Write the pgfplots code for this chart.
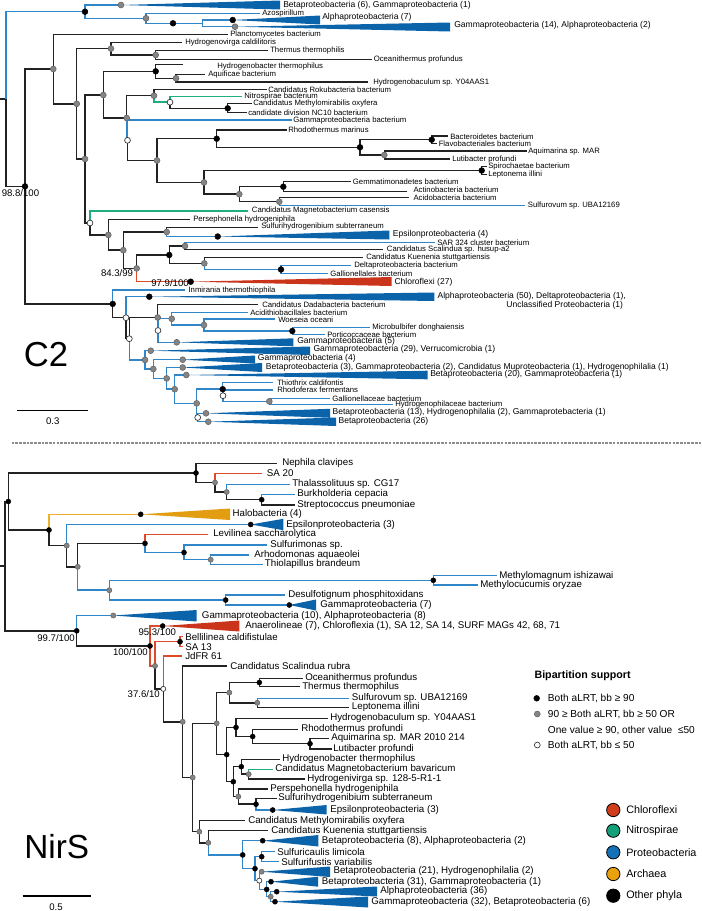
\documentclass[border=0pt]{standalone}
\usepackage{pgfplots}
\pgfplotsset{compat=1.18}
\usepackage{fontspec}
\setmainfont{Liberation Sans}
\definecolor{tblack}{HTML}{222222}
\definecolor{lblue}{HTML}{2F86C8}
\definecolor{tblue}{HTML}{0B63AA}
\definecolor{lred}{HTML}{DD4A2A}
\definecolor{tred}{HTML}{C9341A}
\definecolor{lgreen}{HTML}{1FAE80}
\definecolor{lorange}{HTML}{EDB02E}
\definecolor{torange}{HTML}{E39D12}
\definecolor{dgray}{HTML}{858585}
\definecolor{cchl}{HTML}{D13D1A}
\definecolor{cnit}{HTML}{139F77}
\definecolor{cpro}{HTML}{1470B7}
\definecolor{carc}{HTML}{E9A20E}
\newcommand{\fc}{\fontsize{5.8}{6.5}\selectfont}
\newcommand{\fC}{\fontsize{6.4}{7}\selectfont}
\newcommand{\fn}{\fontsize{7.3}{8}\selectfont}
\newcommand{\fs}{\fontsize{7.2}{8}\selectfont}
\newcommand{\fl}{\fontsize{7.6}{9}\selectfont}
\newcommand{\lab}[4][\fc]{\node[anchor=west,inner sep=0pt,font=#1] at (axis cs:#2,#3) {#4};}
\newcommand{\labr}[4][\fs]{\node[anchor=east,inner sep=0pt,font=#1] at (axis cs:#2,#3) {#4};}
\pgfplotsset{
  branch/.style={line width=1.1pt, mark=none, line join=miter},
  dk/.style={only marks, mark=*, mark size=#1, mark options={fill=black, draw=black, line width=0.3pt}},
  dg/.style={only marks, mark=*, mark size=#1, mark options={fill=dgray, draw=black!60, line width=0.45pt}},
  dw/.style={only marks, mark=*, mark size=#1, mark options={fill=white, draw=black!80, line width=0.5pt}},
  tri/.style={fill=#1, draw=none, mark=none},
}
\begin{document}
\begin{tikzpicture}
\begin{axis}[width=525.75pt, height=683.25pt, scale only axis,
  xmin=0, xmax=701, ymin=0, ymax=911, y dir=reverse,
  hide axis, clip=false, unbounded coords=jump]

% ================= C2 =================
\addplot[branch, tblack] coordinates {
(0,99)(6,99) (nan,nan)
(6,99)(6,186.4)(25,186.4) (nan,nan)
(25,186.4)(25,69)(53.3,69) (nan,nan)
(53.3,69)(53.3,34.3)(227.7,34.3) (nan,nan)
(53.3,69)(53.3,103.8)(76.7,103.8) (nan,nan)
(76.7,103.8)(76.7,48.6)(111,48.6) (nan,nan)
(111,48.6)(111,42.7)(182.3,42.7) (nan,nan)
(111,48.6)(111,55)(155.7,55) (nan,nan)
(155.7,55)(155.7,50.7)(268.3,50.7) (nan,nan)
(155.7,55)(155.7,59.3)(372,59.3) (nan,nan)
(76.7,103.8)(76.7,159)(85,159) (nan,nan)
(85,159)(85,95)(103.3,95) (nan,nan)
(103.3,95)(103.3,71.3)(155.7,71.3) (nan,nan)
(155.7,71.3)(155.7,64.3)(183.3,64.3) (nan,nan)
(155.7,71.3)(155.7,78.3)(176,78.3) (nan,nan)
(176,78.3)(176,74.5)(205,74.5) (nan,nan)
(176,78.3)(176,82)(368,82) (nan,nan)
(103.3,95)(103.3,118)(126.7,118) (nan,nan)
(126.7,118)(126.7,95.7)(154,95.7) (nan,nan)
(154,95.7)(154,89.3)(266.7,89.3) (nan,nan)
(170,102.2)(170,108.3)(227.7,108.3) (nan,nan)
(227.7,108.3)(227.7,103.3)(251.7,103.3) (nan,nan)
(227.7,108.3)(227.7,112.7)(246.7,112.7) (nan,nan)
(127.5,140.3)(127.5,160.5)(157,160.5) (nan,nan)
(157,160.5)(157,138.7)(216.7,138.7) (nan,nan)
(216.7,138.7)(216.7,130)(286.7,130) (nan,nan)
(216.7,138.7)(216.7,147.3)(360,147.3) (nan,nan)
(360,147.3)(360,139.7)(431.7,139.7) (nan,nan)
(431.7,139.7)(431.7,136)(448.3,136) (nan,nan)
(431.7,139.7)(431.7,143.3)(437,143.3) (nan,nan)
(360,147.3)(360,155)(384.3,155) (nan,nan)
(384.3,155)(384.3,151)(526.7,151) (nan,nan)
(384.3,155)(384.3,159)(450,159) (nan,nan)
(157,160.5)(157,182.4)(204,182.4) (nan,nan)
(204,182.4)(204,170.5)(481.7,170.5) (nan,nan)
(481.7,170.5)(481.7,166.7)(486.7,166.7) (nan,nan)
(481.7,170.5)(481.7,174.3)(486.7,174.3) (nan,nan)
(204,182.4)(204,194.2)(239.3,194.2) (nan,nan)
(239.3,194.2)(239.3,186.7)(283.3,186.7) (nan,nan)
(283.3,186.7)(283.3,181.7)(351,181.7) (nan,nan)
(283.3,186.7)(283.3,191.3)(406.7,191.3) (nan,nan)
(239.3,194.2)(239.3,201.7)(279.3,201.7) (nan,nan)
(279.3,201.7)(279.3,197.7)(409.3,197.7) (nan,nan)
(85,159)(85,223)(90,223) (nan,nan)
(90,223)(90,234.9)(108.3,234.9) (nan,nan)
(108.3,234.9)(108.3,219.3)(190,219.3) (nan,nan)
(108.3,234.9)(108.3,250.2)(123.3,250.2) (nan,nan)
(123.3,250.2)(123.3,232)(166.7,232) (nan,nan)
(166.7,232)(166.7,227.5)(258,227.5) (nan,nan)
(123.3,250.2)(123.3,268.4)(136.7,268.4) (nan,nan)
(136.7,268.4)(136.7,255)(169.3,255) (nan,nan)
(169.3,255)(169.3,246)(185,246) (nan,nan)
(185,246)(185,249.3)(383.3,249.3) (nan,nan)
(169.3,255)(169.3,263.4)(204.3,263.4) (nan,nan)
(204.3,263.4)(204.3,257.3)(362.7,257.3) (nan,nan)
(25,186.4)(25,303.9)(112.7,303.9) (nan,nan)
(112.7,303.9)(112.7,317.7)(126,317.7) (nan,nan)
(126,317.7)(126,338.7)(129.3,338.7) (nan,nan)
(129.3,338.7)(129.3,317.5)(157.7,317.5) (nan,nan)
(157.7,317.5)(157.7,304.5)(258.3,304.5)
};
\addplot[branch, lblue] coordinates {
(6,99)(6,11.7)(85,11.7) (nan,nan)
(85,11.7)(85,5)(121,5) (nan,nan)
(85,11.7)(85,18.3)(146,18.3) (nan,nan)
(146,18.3)(146,13.3)(260,13.3) (nan,nan)
(146,18.3)(146,23.3)(202.7,23.3) (nan,nan)
(202.7,23.3)(202.7,20)(232.7,20) (nan,nan)
(202.7,23.3)(202.7,26.7)(235,26.7) (nan,nan)
(126.7,118)(126.7,140.3)(127.5,140.3) (nan,nan)
(127.5,140.3)(127.5,120)(291.7,120) (nan,nan)
(279.3,201.7)(279.3,205.7)(525,205.7) (nan,nan)
(166.7,232)(166.7,236.5)(217.7,236.5) (nan,nan)
(185,246)(185,242.7)(435,242.7) (nan,nan)
(204.3,263.4)(204.3,269.5)(281,269.5) (nan,nan)
(281,269.5)(281,265.7)(351,265.7) (nan,nan)
(281,269.5)(281,273.3)(328.3,273.3) (nan,nan)
(112.7,303.9)(112.7,290)(185,290) (nan,nan)
(126,317.7)(126,296.7)(149.3,296.7) (nan,nan)
(157.7,317.5)(157.7,330.5)(158,330.5) (nan,nan)
(158,330.5)(158,318.75)(171.7,318.75) (nan,nan)
(171.7,318.75)(171.7,312.5)(248.3,312.5) (nan,nan)
(171.7,318.75)(171.7,325)(204,325) (nan,nan)
(204,325)(204,319)(275,319) (nan,nan)
(204,325)(204,331)(292.3,331) (nan,nan)
(292.3,331)(292.3,327.3)(370,327.3) (nan,nan)
(292.3,331)(292.3,334.7)(325,334.7) (nan,nan)
(158,330.5)(158,342.3)(176.7,342.3) (nan,nan)
(129.3,338.7)(129.3,359.9)(145,359.9) (nan,nan)
(145,359.9)(145,350.7)(150.7,350.7) (nan,nan)
(145,359.9)(145,369)(153.3,369) (nan,nan)
(153.3,369)(153.3,359.7)(182.7,359.7) (nan,nan)
(153.3,369)(153.3,378.4)(166.7,378.4) (nan,nan)
(166.7,378.4)(166.7,367.5)(182.7,367.5) (nan,nan)
(166.7,378.4)(166.7,389.2)(174.7,389.2) (nan,nan)
(174.7,389.2)(174.7,375)(186.3,375) (nan,nan)
(174.7,389.2)(174.7,403.4)(196.7,403.4) (nan,nan)
(196.7,403.4)(196.7,389.2)(222.7,389.2) (nan,nan)
(222.7,389.2)(222.7,382.7)(273.3,382.7) (nan,nan)
(222.7,389.2)(222.7,395.7)(223,395.7) (nan,nan)
(223,395.7)(223,390)(273.3,390) (nan,nan)
(223,395.7)(223,401.4)(269.3,401.4) (nan,nan)
(269.3,401.4)(269.3,398.3)(330,398.3) (nan,nan)
(269.3,401.4)(269.3,404.5)(392.7,404.5) (nan,nan)
(196.7,403.4)(196.7,417.5)(197.7,417.5) (nan,nan)
(197.7,417.5)(197.7,413.3)(206,413.3) (nan,nan)
(197.7,417.5)(197.7,421.7)(208.3,421.7)
};
\addplot[branch, lgreen] coordinates {
(154,95.7)(154,102.2)(170,102.2) (nan,nan)
(170,102.2)(170,96.3)(241.7,96.3) (nan,nan)
(90,223)(90,211)(248.3,211)
};
\addplot[branch, lred] coordinates {(136.7,268.4)(136.7,281.7)(190.7,281.7)};

% C2 triangles
\addplot[tri=tblue] coordinates {(121,5)(280,0.5)(280,9.5)};
\addplot[tri=tblue] coordinates {(232.7,20)(320,15.5)(320,24.5)};
\addplot[tri=tblue] coordinates {(235,26.7)(450,22.5)(450,31.5)};
\addplot[tri=tblue] coordinates {(217.7,236.5)(389.3,230.5)(389.3,239.5)};
\addplot[tri=tred] coordinates {(190.7,281.7)(391.7,277)(391.7,286)};
\addplot[tri=tblue] coordinates {(149.3,296.7)(434.3,292.5)(434.3,301)};
\addplot[tri=tblue] coordinates {(176.7,342.3)(293.3,338.3)(293.3,346.3)};
\addplot[tri=tblue] coordinates {(150.7,350.7)(310,346.5)(310,355)};
\addplot[tri=tblue] coordinates {(182.7,359.7)(255,355.5)(255,363.5)};
\addplot[tri=tblue] coordinates {(182.7,367.5)(262,363)(262,372)};
\addplot[tri=tblue] coordinates {(186.3,375)(427.7,370.7)(427.7,379.3)};
\addplot[tri=tblue] coordinates {(206,413.3)(330,408.8)(330,417.8)};
\addplot[tri=tblue] coordinates {(208.3,421.7)(336,417.5)(336,426)};

% C2 dots
\addplot[dk=2.2pt] coordinates {(85,11.7)(173,23.3)(232.7,20)(25,186.4)(155.7,71.3)(227.7,108.3)
 (216.7,138.7)(360,147.3)(431.7,139.7)(481.7,170.5)(283.3,186.7)(217.7,236.5)(169.3,255)(281,269.5)
 (190.7,281.7)(112.7,303.9)(149.3,296.7)(292.3,331)(222.7,389.2)};
\addplot[dg=2.2pt] coordinates {(121,5)(146,18.3)(235,26.7)(53.3,69)(76.7,103.8)(111,48.6)(155.7,55)
 (85,159)(103.3,95)(176,78.3)(126.7,118)(154,95.7)(157,160.5)(384.3,155)(204,182.4)(239.3,194.2)
 (279.3,201.7)(108.3,234.9)(123.3,250.2)(166.7,232)(136.7,268.4)(185,246)(204.3,263.4)
 (157.7,317.5)(171.7,318.75)(204,325)(176.7,342.3)(145,359.9)(150.7,350.7)(153.3,369)(182.7,359.7)
 (166.7,378.4)(182.7,367.5)(174.7,389.2)(186.3,375)(196.7,403.4)(269.3,401.4)(206,413.3)(208.3,421.7)};
\addplot[dw=2.2pt] coordinates {(170,102.2)(127.5,140.3)(90,223)(126,317.7)(129.3,338.7)(158,330.5)
 (223,395.7)(197.7,417.5)};

% C2 labels
\lab[\fC]{283}{5}{Betaproteobacteria (6), Gammaproteobacteria (1)}
\lab{262}{13.3}{Azospirillum}
\lab[\fC]{322}{17.3}{Alphaproteobacteria (7)}
\lab[\fC]{454}{25.7}{Gammaproteobacteria (14), Alphaproteobacteria (2)}
\lab{230}{34.3}{Planctomycetes bacterium}
\lab{185}{42.7}{Hydrogenovirga caldilitoris}
\lab{270}{50.7}{Thermus thermophilis}
\lab{373.5}{59.5}{Oceanithermus profundus}
\lab{217}{66.5}{Hydrogenobacter thermophilus}
\lab{208}{74.3}{Aquificae bacterium}
\lab{373}{82}{Hydrogenobaculum sp. Y04AAS1}
\lab{268}{89.3}{Candidatus Rokubacteria bacterium}
\lab{244}{96}{Nitrospirae bacterium}
\lab{253}{103.3}{Candidatus Methylomirabilis oxyfera}
\lab{248}{113}{candidate division NC10 bacterium}
\lab{293}{120}{Gammaproteobacteria bacterium}
\lab{288}{129.5}{Rhodothermus marinus}
\lab{450}{136.5}{Bacteroidetes bacterium}
\lab{438.5}{143.5}{Flavobacteriales bacterium}
\lab{528}{151}{Aquimarina sp. MAR}
\lab{452}{159}{Lutibacter profundi}
\lab{488}{166.7}{Spirochaetae bacterium}
\lab{488}{174.3}{Leptonema illini}
\lab{352.7}{181.7}{Gemmatimonadetes bacterium}
\lab{413.3}{190}{Actinobacteria bacterium}
\lab{413.3}{197.7}{Acidobacteria bacterium}
\lab{527.7}{205.7}{Sulfurovum sp. UBA12169}
\lab{251.7}{210.5}{Candidatus Magnetobacterium casensis}
\lab{193}{219.3}{Persephonella hydrogeniphila}
\lab{261}{226.7}{Sulfurihydrogenibium subterraneum}
\lab[\fC]{392.7}{234.7}{Epsilonproteobacteria (4)}
\lab{437}{242.3}{SAR 324 cluster bacterium}
\lab{386.7}{249.3}{Candidatus Scalindua sp. husup-a2}
\lab{366}{257.3}{Candidatus Kuenenia stuttgartiensis}
\lab{354}{265.7}{Deltaproteobacteria bacterium}
\lab{330}{273.3}{Gallionellales bacterium}
\lab[\fC]{394.3}{282}{Chloroflexi (27)}
\lab{188.3}{290}{Inmirania thermothiophila}
\lab[\fC]{437.3}{296.3}{Alphaproteobacteria (50), Deltaproteobacteria (1),}
\labr[\fC]{623.3}{305.7}{Unclassified Proteobacteria (1)}
\lab{262}{304.5}{Candidatus Dadabacteria bacterium}
\lab{250}{312.7}{Acidithiobacillales bacterium}
\lab{278}{319.3}{Woeseia oceani}
\lab{372}{327.3}{Microbulbifer donghaiensis}
\lab{327}{334.5}{Porticoccaceae bacterium}
\lab[\fC]{297}{341.7}{Gammaproteobacteria (5)}
\lab[\fC]{313.3}{349.5}{Gammaproteobacteria (29), Verrucomicrobia (1)}
\lab[\fC]{257.7}{358.5}{Gammaproteobacteria (4)}
\lab[\fC]{265.7}{367}{Betaproteobacteria (3), Gammaproteobacteria (2), Candidatus Muproteobacteria (1), Hydrogenophilalia (1)}
\lab[\fC]{430}{374.5}{Betaproteobacteria (20), Gammaproteobacteria (1)}
\lab{277}{382.7}{Thiothrix caldifontis}
\lab{277}{390}{Rhodoferax fermentans}
\lab{332}{398.3}{Gallionellaceae bacterium}
\lab{395}{404.3}{Hydrogenophilaceae bacterium}
\lab[\fC]{332.3}{412.7}{Betaproteobacteria (13), Hydrogenophilalia (2), Gammaprotebacteria (1)}
\lab[\fC]{338.3}{421.7}{Betaproteobacteria (26)}
\lab[\fs]{1.5}{193.3}{98.8/100}
\labr{133.3}{272.7}{84.3/99}
\labr{189}{283.3}{97.9/100}
\node[font=\fontsize{26}{30}\selectfont, inner sep=0pt] at (axis cs:46,355) {C2};
\addplot[black, line width=0.9pt, mark=none] coordinates {(17.3,410.7)(88.3,410.7)};
\node[font=\fs, inner sep=0pt] at (axis cs:52.7,421.3) {0.3};

% separator
\addplot[black!45, line width=1.6pt, dash pattern=on 2pt off 0.8pt, mark=none] coordinates {(11.7,442.7)(701,442.7)};

% ================= NirS =================
\addplot[branch, tblack] coordinates {
(0,566.2)(5,566.2) (nan,nan)
(5,566.2)(5,501.5)(8.3,501.5) (nan,nan)
(5,566.2)(5,630.8)(76.7,630.8) (nan,nan)
(8.3,501.5)(8.3,473)(196,473) (nan,nan)
(8.3,501.5)(8.3,530)(49,530) (nan,nan)
(196,473)(196,463.3)(276.7,463.3) (nan,nan)
(196,473)(196,482.6)(215,482.6) (nan,nan)
(215,482.6)(215,492)(226.7,492) (nan,nan)
(226.7,492)(226.7,499.7)(261.7,499.7) (nan,nan)
(261.7,499.7)(261.7,505)(295,505) (nan,nan)
(49,530)(49,545.6)(66.7,545.6) (nan,nan)
(66.7,545.6)(66.7,566.8)(77.7,566.8) (nan,nan)
(77.7,566.8)(77.7,543.4)(145,543.4) (nan,nan)
(76.7,630.8)(76.7,646)(150,646) (nan,nan)
(155,665.9)(155,688.9)(163.3,688.9) (nan,nan)
(163.3,688.9)(163.3,721.8)(182.7,721.8) (nan,nan)
(182.7,721.8)(182.7,666)(226.7,666) (nan,nan)
(182.7,721.8)(182.7,777.5)(192.7,777.5) (nan,nan)
(192.7,777.5)(192.7,723.3)(216.7,723.3) (nan,nan)
(192.7,777.5)(192.7,831.7)(199.3,831.7) (nan,nan)
(216.7,723.3)(216.7,692.6)(229.3,692.6) (nan,nan)
(216.7,723.3)(216.7,754.6)(226.7,754.6) (nan,nan)
(229.3,692.6)(229.3,682.5)(259.3,682.5) (nan,nan)
(259.3,682.5)(259.3,678.3)(303.3,678.3) (nan,nan)
(259.3,682.5)(259.3,686.7)(300,686.7) (nan,nan)
(229.3,692.6)(229.3,702.8)(257.3,702.8) (nan,nan)
(257.3,702.8)(257.3,707.3)(349,707.3) (nan,nan)
(226.7,754.6)(226.7,727.4)(236,727.4) (nan,nan)
(236,727.4)(236,718.3)(328.3,718.3) (nan,nan)
(236,727.4)(236,736.5)(252.7,736.5) (nan,nan)
(252.7,736.5)(252.7,729.3)(298.3,729.3) (nan,nan)
(252.7,736.5)(252.7,743.7)(310,743.7) (nan,nan)
(310,743.7)(310,738.3)(329.3,738.3) (nan,nan)
(310,743.7)(310,749)(331.7,749) (nan,nan)
(226.7,754.6)(226.7,781.7)(233.3,781.7) (nan,nan)
(233.3,781.7)(233.3,766.7)(241.3,766.7) (nan,nan)
(241.3,766.7)(241.3,759.3)(280,759.3) (nan,nan)
(241.3,766.7)(241.3,774.2)(248.7,774.2) (nan,nan)
(248.7,774.2)(248.7,779)(305,779) (nan,nan)
(233.3,781.7)(233.3,796.6)(238.3,796.6) (nan,nan)
(238.3,796.6)(238.3,789)(268.3,789) (nan,nan)
(238.3,796.6)(238.3,804.2)(256,804.2) (nan,nan)
(256,804.2)(256,798.3)(276.7,798.3) (nan,nan)
(199.3,831.7)(199.3,820.7)(245,820.7) (nan,nan)
(199.3,831.7)(199.3,842.8)(208.3,842.8) (nan,nan)
(208.3,842.8)(208.3,830.7)(268.3,830.7)
};
\addplot[branch, lblue] coordinates {
(226.7,492)(226.7,484.3)(290,484.3) (nan,nan)
(261.7,499.7)(261.7,494.3)(295,494.3) (nan,nan)
(66.7,545.6)(66.7,524.5)(250.7,524.5) (nan,nan)
(145,543.4)(145,552.5)(184,552.5) (nan,nan)
(184,552.5)(184,545)(266.7,545) (nan,nan)
(184,552.5)(184,559.7)(210.7,559.7) (nan,nan)
(210.7,559.7)(210.7,555)(249.3,555) (nan,nan)
(210.7,559.7)(210.7,564.3)(263.3,564.3) (nan,nan)
(77.7,566.8)(77.7,590.2)(109.3,590.2) (nan,nan)
(109.3,590.2)(109.3,580.3)(433.3,580.3) (nan,nan)
(433.3,580.3)(433.3,575.7)(496.7,575.7) (nan,nan)
(433.3,580.3)(433.3,585)(477.7,585) (nan,nan)
(109.3,590.2)(109.3,600)(225.7,600) (nan,nan)
(225.7,600)(225.7,595)(285,595) (nan,nan)
(225.7,600)(225.7,605)(289.3,605) (nan,nan)
(76.7,630.8)(76.7,615.5)(113.3,615.5) (nan,nan)
(257.3,702.8)(257.3,698.3)(349,698.3) (nan,nan)
(256,804.2)(256,810)(272.7,810) (nan,nan)
(208.3,842.8)(208.3,854.9)(242.7,854.9) (nan,nan)
(242.7,854.9)(242.7,840.7)(262.7,840.7) (nan,nan)
(242.7,854.9)(242.7,868.7)(255,868.7) (nan,nan)
(255,868.7)(255,856.7)(261.7,856.7) (nan,nan)
(261.7,856.7)(261.7,851.7)(275,851.7) (nan,nan)
(261.7,856.7)(261.7,861.7)(279.3,861.7) (nan,nan)
(255,868.7)(255,880.6)(259.3,880.6) (nan,nan)
(259.3,880.6)(259.3,871.7)(261.7,871.7) (nan,nan)
(259.3,880.6)(259.3,889.4)(266.7,889.4) (nan,nan)
(266.7,889.4)(266.7,881.7)(271,881.7) (nan,nan)
(266.7,889.4)(266.7,896.7)(270.7,896.7) (nan,nan)
(270.7,896.7)(270.7,891.7)(276.7,891.7) (nan,nan)
(270.7,896.7)(270.7,901.7)(275,901.7)
};
\addplot[branch, lred] coordinates {
(215,482.6)(215,473.3)(261.7,473.3) (nan,nan)
(145,543.4)(145,534.3)(208.3,534.3) (nan,nan)
(150,646)(150,626)(162.7,626) (nan,nan)
(150,646)(150,665.9)(155,665.9) (nan,nan)
(155,665.9)(155,641.7)(180,641.7) (nan,nan)
(180,641.7)(180,636.7)(183.3,636.7) (nan,nan)
(180,641.7)(180,646.7)(183.3,646.7) (nan,nan)
(163.3,688.9)(163.3,656)(181.7,656)
};
\addplot[branch, lorange] coordinates {(49,530)(49,514.3)(140.7,514.3)};
\addplot[branch, lgreen] coordinates {(248.7,774.2)(248.7,769.3)(273.3,769.3)};

% NirS triangles
\addplot[tri=torange] coordinates {(140.7,514.3)(230,508.5)(230,520)};
\addplot[tri=tblue] coordinates {(250.7,524.5)(283.3,518.8)(283.3,530.2)};
\addplot[tri=tblue] coordinates {(289.3,605)(316,599.5)(316,610.5)};
\addplot[tri=tblue] coordinates {(113.3,615.5)(196.7,610)(196.7,621.5)};
\addplot[tri=tred] coordinates {(162.7,626)(239.3,620.5)(239.3,631.5)};
\addplot[tri=tblue] coordinates {(272.7,810)(326.7,805)(326.7,814.5)};
\addplot[tri=tblue] coordinates {(262.7,840.7)(318.3,835)(318.3,846.5)};
\addplot[tri=tblue] coordinates {(261.7,871.7)(330,866.5)(330,877)};
\addplot[tri=tblue] coordinates {(271,881.7)(318,876.7)(318,886.7)};
\addplot[tri=tblue] coordinates {(276.7,891.7)(377,886.5)(377,896.5)};
\addplot[tri=tblue] coordinates {(275,901.7)(368,896.5)(368,907.5)};

% NirS dots
\addplot[dk=1.9pt] coordinates {(8.3,501.5)(196,473)(261.7,499.7)(49,530)(140.7,514.3)(250.7,524.5)
 (145,543.4)(184,552.5)(433.3,580.3)(225.7,600)(289.3,605)(76.7,630.8)(150,646)(162.7,626)(180,641.7)
 (259.3,682.5)(226.7,754.6)(236,727.4)(252.7,736.5)(310,743.7)(233.3,781.7)(241.3,766.7)(256,804.2)
 (272.7,810)(242.7,854.9)(262.7,840.7)(255,868.7)(261.7,856.7)(266.7,889.4)(271,881.7)(276.7,891.7)(275,901.7)};
\addplot[dg=1.9pt] coordinates {(215,482.6)(226.7,492)(66.7,545.6)(77.7,566.8)(210.7,559.7)(109.3,590.2)
 (113.3,615.5)(155,665.9)(182.7,721.8)(192.7,777.5)(216.7,723.3)(229.3,692.6)(257.3,702.8)(248.7,774.2)
 (238.3,796.6)(199.3,831.7)(208.3,842.8)(261.7,871.7)(270.7,896.7)};
\addplot[dw=1.9pt] coordinates {(163.3,688.9)(259.3,880.6)};

% NirS labels
\lab[\fn]{282}{463.3}{Nephila clavipes}
\lab[\fn]{266.7}{473.3}{SA 20}
\lab[\fn]{292}{484.3}{Thalassolituus sp. CG17}
\lab[\fn]{297}{494.3}{Burkholderia cepacia}
\lab[\fn]{297}{505}{Streptococcus pneumoniae}
\lab[\fn]{232.3}{514.3}{Halobacteria (4)}
\lab[\fn]{286}{524.5}{Epsilonproteobacteria (3)}
\lab[\fn]{213}{534.3}{Levilinea saccharolytica}
\lab[\fn]{270}{545}{Sulfurimonas sp.}
\lab[\fn]{254}{555}{Arhodomonas aquaeolei}
\lab[\fn]{264.7}{564.3}{Thiolapillus brandeum}
\lab[\fn]{499}{575.7}{Methylomagnum ishizawai}
\lab[\fn]{480}{585}{Methylocucumis oryzae}
\lab[\fn]{288}{595}{Desulfotignum phosphitoxidans}
\lab[\fn]{320}{605}{Gammaproteobacteria (7)}
\lab[\fn]{201.7}{615.5}{Gammaproteobacteria (10), Alphaproteobacteria (8)}
\lab[\fn]{245}{626}{Anaerolineae (7), Chloroflexia (1), SA 12, SA 14, SURF MAGs 42, 68, 71}
\lab[\fn]{185}{636.7}{Bellilinea caldifistulae}
\lab[\fn]{185}{646.7}{SA 13}
\lab[\fn]{185}{656}{JdFR 61}
\lab[\fn]{230}{666}{Candidatus Scalindua rubra}
\lab[\fn]{305}{678.3}{Oceanithermus profundus}
\lab[\fn]{302}{686.7}{Thermus thermophilus}
\lab[\fn]{351.7}{698.3}{Sulfurovum sp. UBA12169}
\lab[\fn]{351.7}{707.3}{Leptonema illini}
\lab[\fn]{330}{718.3}{Hydrogenobaculum sp. Y04AAS1}
\lab[\fn]{301}{729.3}{Rhodothermus profundi}
\lab[\fn]{331}{738.3}{Aquimarina sp. MAR 2010 214}
\lab[\fn]{333}{749}{Lutibacter profundi}
\lab[\fn]{282}{759.3}{Hydrogenobacter thermophilus}
\lab[\fn]{275}{769.3}{Candidatus Magnetobacterium bavaricum}
\lab[\fn]{307}{779}{Hydrogenivirga sp. 128-5-R1-1}
\lab[\fn]{270}{789}{Perspehonella hydrogeniphila}
\lab[\fn]{278}{798.3}{Sulfurihydrogenibium subterraneum}
\lab[\fn]{330}{810}{Epsilonproteobacteria (3)}
\lab[\fn]{248}{820.7}{Candidatus Methylomirabilis oxyfera}
\lab[\fn]{271}{830.7}{Candidatus Kuenenia stuttgartiensis}
\lab[\fn]{321.7}{840.7}{Betaproteobacteria (8), Alphaproteobacteria (2)}
\lab[\fn]{277}{851.7}{Sulfuricaulis limicola}
\lab[\fn]{281}{861.7}{Sulfurifustis variabilis}
\lab[\fn]{333.3}{871}{Betaproteobacteria (21), Hydrogenophilalia (2)}
\lab[\fn]{321.7}{881.7}{Betaproteobacteria (31), Gammaproteobacteria (1)}
\lab[\fn]{380}{891}{Alphaproteobacteria (36)}
\lab[\fn]{371}{902}{Gammaproteobacteria (32), Betaproteobacteria (6)}
\labr{75}{638.3}{99.7/100}
\lab[\fs]{138.3}{631.7}{95.3/100}
\labr{148}{651.7}{100/100}
\labr{160}{694.3}{37.6/10}
\node[font=\fontsize{25}{30}\selectfont, inner sep=0pt] at (axis cs:56.7,846.7) {NirS};
\addplot[black, line width=0.9pt, mark=none] coordinates {(22.7,896)(90.7,896)};
\node[font=\fs, inner sep=0pt] at (axis cs:56,906.7) {0.5};

% legends
\node[anchor=west, inner sep=0pt, font=\fontsize{8}{9}\selectfont\bfseries] at (axis cs:534.3,676) {Bipartition support};
\addplot[dk=2.2pt] coordinates {(536.7,698.3)};
\addplot[dg=2.2pt] coordinates {(537.3,714)};
\addplot[dw=2.2pt] coordinates {(537.3,745)};
\lab[\fl]{547.7}{698.3}{Both aLRT, bb ≥ 90}
\lab[\fl]{547.7}{714}{90 ≥ Both aLRT, bb ≥ 50 OR}
\lab[\fl]{547.7}{730.7}{One value ≥ 90, other value\ \ ≤50}
\lab[\fl]{547.7}{745}{Both aLRT, bb ≤ 50}
\addplot[only marks, mark=*, mark size=5pt, mark options={fill=cchl, draw=black, line width=0.6pt}] coordinates {(613.3,810)};
\addplot[only marks, mark=*, mark size=5pt, mark options={fill=cnit, draw=black, line width=0.6pt}] coordinates {(613.3,830.7)};
\addplot[only marks, mark=*, mark size=5pt, mark options={fill=cpro, draw=black, line width=0.6pt}] coordinates {(613.3,852.3)};
\addplot[only marks, mark=*, mark size=5pt, mark options={fill=carc, draw=black, line width=0.6pt}] coordinates {(613.3,874)};
\addplot[only marks, mark=*, mark size=5pt, mark options={fill=black, draw=black, line width=0.6pt}] coordinates {(613.3,895.7)};
\lab[\fontsize{8.1}{9}\selectfont]{626}{810}{Chloroflexi}
\lab[\fontsize{8.1}{9}\selectfont]{626}{830.7}{Nitrospirae}
\lab[\fontsize{8.1}{9}\selectfont]{626}{852.3}{Proteobacteria}
\lab[\fontsize{8.1}{9}\selectfont]{626}{874}{Archaea}
\lab[\fontsize{8.1}{9}\selectfont]{626}{895.7}{Other phyla}
\end{axis}
\pgfresetboundingbox
\useasboundingbox (current axis.south west) rectangle (current axis.north east);
\end{tikzpicture}
\end{document}
